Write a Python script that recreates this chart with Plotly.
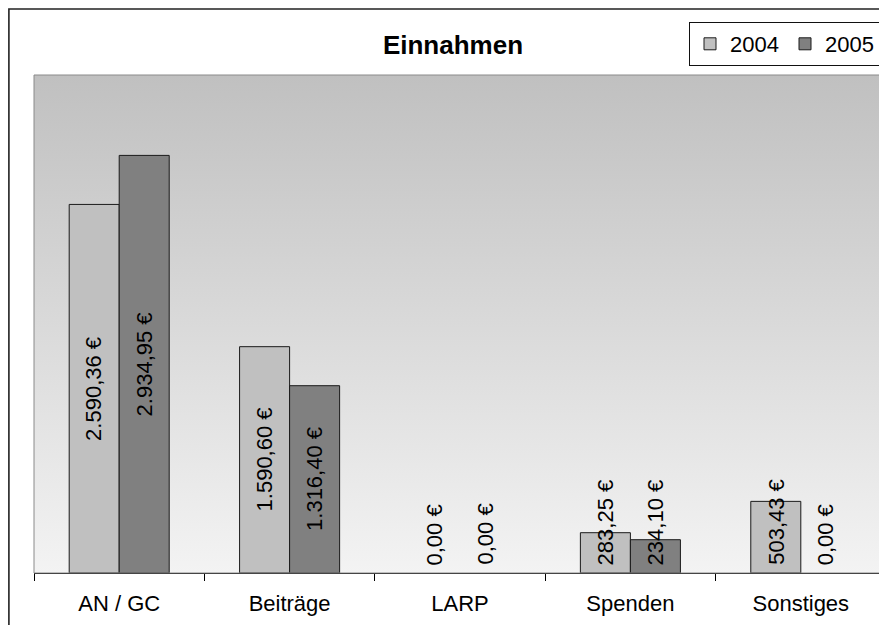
import plotly.graph_objects as go

categories = ["AN / GC", "Beiträge", "LARP", "Spenden", "Sonstiges"]
series_names = ["2004", "2005"]
values_2004 = [2590.36, 1590.60, 0.00, 283.25, 503.43]
values_2005 = [2934.95, 1316.40, 0.00, 234.10, 0.00]
colors = ["#c0c0c0", "#808080"]
y_max = 3500

# page has an 8px body margin; figure sized/positioned to compensate
OFF = 8
W, H = 887 - OFF, 625 - OFF
L, R, T, B = 34 - OFF, 1, 75 - OFF, 52
pw, ph = W - L - R, H - T - B


def fmt(v):
    s = f"{v:,.2f}"
    s = s.replace(",", "X").replace(".", ",").replace("X", ".")
    return s + " €"


fig = go.Figure()

# background gradient on base axes
fig.add_trace(go.Scatter(
    x=[0, 1, 1, 0, 0], y=[0, 0, 1, 1, 0], mode="lines",
    line=dict(width=0), fill="toself",
    fillgradient=dict(type="vertical",
                      colorscale=[[0, "#f3f3f3"], [1, "#c0c0c0"]]),
    hoverinfo="skip", showlegend=False, xaxis="x", yaxis="y"))

for name, vals, col in zip(series_names, [values_2004, values_2005], colors):
    fig.add_trace(go.Bar(
        x=categories, y=vals, name=name,
        marker=dict(color=col, line=dict(color="#1a1a1a",
                                         width=[1 if v > 0 else 0 for v in vals])),
        xaxis="x2", yaxis="y2"))

bar_px = pw / len(categories) * (1 - 0.413) / 2
annotations = []
for i, vals in enumerate([values_2004, values_2005]):
    shift = (i - 0.5) * bar_px
    for c, v in zip(categories, vals):
        if v >= 1000:
            annotations.append(dict(x=c, y=v / 2, xref="x2", yref="y2", text=fmt(v),
                                    textangle=-90, showarrow=False, xshift=shift,
                                    xanchor="center", yanchor="middle",
                                    font=dict(size=22, color="#000")))
        else:
            annotations.append(dict(x=c, y=0, xref="x2", yref="y2", text=fmt(v),
                                    textangle=-90, showarrow=False, xshift=shift, yshift=6,
                                    xanchor="center", yanchor="bottom",
                                    font=dict(size=22, color="#000")))

shapes = [
    # plot area border
    dict(type="rect", xref="paper", yref="paper", x0=0, x1=1, y0=0, y1=1,
         line=dict(color="#8a8a8a", width=1), layer="above"),
    # outer chart border
    dict(type="rect", xref="paper", yref="paper",
         x0=(0.9 - L) / pw, x1=1.05, y0=-0.3, y1=(H - B - (9 - OFF)) / ph,
         line=dict(color="#222", width=1.6)),
]

fig.update_layout(
    width=W, height=H,
    margin=dict(l=L, r=R, t=T, b=B),
    paper_bgcolor="white", plot_bgcolor="rgba(0,0,0,0)",
    font=dict(family="Liberation Sans, Arial, sans-serif", size=22, color="#000"),
    title=dict(text="<b>Einnahmen</b>", x=(453 - OFF) / W, xanchor="center",
               y=1 - (45 - OFF) / H, yanchor="middle", font=dict(size=26, color="#000")),
    barmode="group", bargap=0.413, bargroupgap=0,
    xaxis=dict(range=[0, 1], visible=False, fixedrange=True),
    yaxis=dict(range=[0, 1], visible=False, fixedrange=True),
    xaxis2=dict(overlaying="x", anchor="y2", showline=True, linecolor="#000", linewidth=1,
                ticks="outside", tickson="boundaries", ticklen=7, tickcolor="#000",
                ticklabelstandoff=11,
                showgrid=False, tickfont=dict(size=22)),
    yaxis2=dict(overlaying="y", anchor="x2", range=[0, y_max], visible=False,
                showgrid=False, zeroline=False),
    legend=dict(orientation="h", x=(881 - OFF - L) / pw, xanchor="right",
                y=(H - B - (22 - OFF)) / ph, yanchor="top",
                bgcolor="white", bordercolor="#111", borderwidth=1,
                font=dict(size=22), itemwidth=30, tracegroupgap=0, entrywidth=50),
    shapes=shapes, annotations=annotations,
)

fig.write_html("out.html")
